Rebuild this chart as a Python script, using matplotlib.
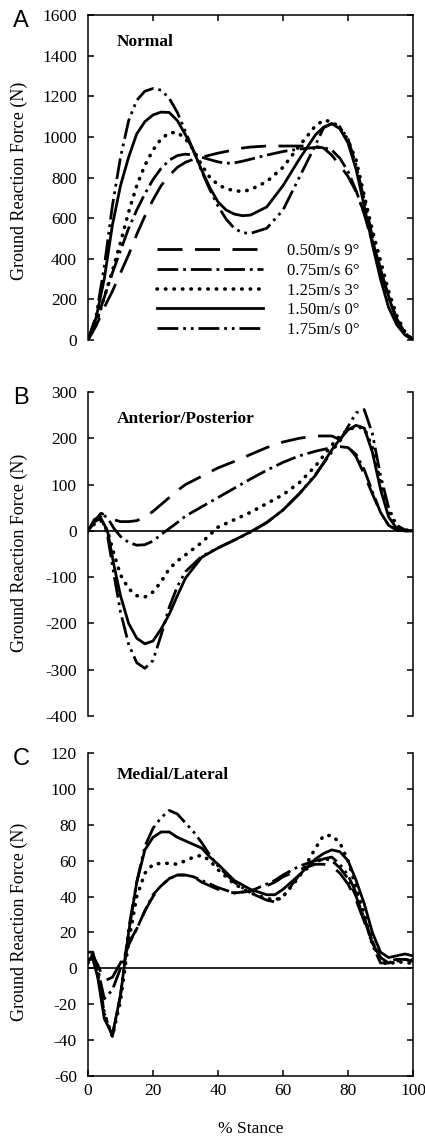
import matplotlib
matplotlib.use("Agg")
import matplotlib.pyplot as plt

plt.rcParams['font.family'] = ['Liberation Serif', 'DejaVu Serif']
plt.rcParams['lines.scale_dashes'] = False
plt.rcParams['axes.unicode_minus'] = False

# condition labels and line styles (legend order)
labels = ['0.50m/s 9°', '0.75m/s 6°', '1.25m/s 3°', '1.50m/s 0°', '1.75m/s 0°']
styles = [(0, (18, 9)),
          (0, (15, 3.5, 2, 3.5)),
          (0, (0.3, 5.8)),
          '-',
          (0, (15, 3.5, 2, 3.5, 2, 3.5))]
widths = [2.0, 2.0, 2.6, 2.0, 2.0]

# ---- A: normal force (N), % stance ----
xa = [0, 2.5, 5, 7.5, 10, 12.5, 15, 17.5, 20, 22.5, 25, 27.5, 30, 32.5, 35, 37.5, 40,
      42.5, 45, 47.5, 50, 55, 60, 65, 70, 72.5, 75, 77.5, 80, 82.5, 85, 87.5, 90,
      92.5, 95, 97.5, 100]
a_050 = [0, 70, 160, 240, 330, 420, 520, 610, 690, 760, 810, 850, 875, 890, 900, 910, 920,
         928, 936, 945, 950, 955, 955, 955, 953, 945, 910, 860, 805, 730, 625, 490, 350,
         215, 105, 35, 0]
a_075 = [0, 90, 210, 330, 440, 550, 640, 720, 790, 845, 885, 908, 915, 910, 900, 888, 877,
         870, 872, 880, 890, 910, 928, 940, 948, 948, 935, 895, 830, 735, 620, 480, 340,
         210, 100, 30, 0]
a_125 = [0, 80, 210, 340, 480, 630, 760, 860, 935, 990, 1020, 1022, 990, 935, 860, 800, 765,
         745, 735, 731, 740, 780, 850, 955, 1055, 1082, 1075, 1045, 985, 885, 710, 540, 390,
         240, 120, 40, 0]
a_150 = [0, 110, 300, 565, 760, 900, 1015, 1075, 1108, 1122, 1120, 1080, 1010, 930, 835, 750, 680,
         640, 620, 612, 615, 655, 760, 890, 1010, 1048, 1065, 1040, 970, 840, 660, 470, 300,
         160, 75, 25, 0]
a_175 = [0, 120, 360, 660, 900, 1080, 1180, 1225, 1238, 1230, 1190, 1120, 1025, 930, 830, 740, 660,
         595, 550, 528, 525, 550, 640, 800, 960, 1045, 1065, 1050, 990, 860, 690, 510, 350,
         210, 100, 35, 0]

# ---- B: anterior/posterior force (N) ----
xb = [0, 2, 4, 6, 8, 10, 12.5, 15, 17.5, 20, 22.5, 25, 27.5, 30, 35, 40, 45, 50, 55, 60,
      65, 70, 75, 77.5, 80, 82.5, 85, 87.5, 90, 92.5, 95, 97.5, 100]
b_050 = [0, 20, 38, 32, 24, 20, 20, 22, 30, 42, 57, 72, 87, 100, 118, 136, 150, 165, 180, 192,
         200, 205, 205, 197, 183, 160, 122, 80, 40, 12, 2, 0, 0]
b_075 = [0, 20, 38, 28, 5, -12, -25, -31, -30, -22, -8, 5, 18, 32, 52, 72, 92, 112, 131, 148,
         162, 172, 180, 182, 180, 165, 132, 85, 40, 12, 2, 0, 0]
b_125 = [0, 15, 22, 0, -50, -95, -125, -140, -143, -132, -110, -82, -65, -52, -25, 8, 24, 40, 59, 78,
         104, 140, 185, 205, 218, 225, 222, 180, 105, 40, 10, 2, 0]
b_150 = [0, 20, 27, 0, -75, -140, -200, -232, -244, -238, -212, -180, -140, -102, -57, -37, -20, -2, 18, 45,
         80, 120, 175, 198, 218, 228, 222, 170, 90, 30, 5, 0, 0]
b_175 = [0, 25, 30, -10, -95, -175, -245, -285, -297, -280, -225, -165, -120, -88, -55, -37, -20, -3, 18, 45,
         80, 122, 170, 195, 225, 255, 262, 210, 120, 50, 12, 2, 0]

# ---- C: medial/lateral force (N) ----
xc = [0, 1.5, 3, 5, 7.5, 10, 12.5, 15, 17.5, 20, 22.5, 25, 27.5, 30, 32.5, 35, 37.5, 40, 45,
      50, 55, 57.5, 60, 65, 70, 72.5, 75, 77.5, 80, 82.5, 85, 87.5, 90, 92.5, 95, 97.5, 100]
c_050 = [4, 7, 2, -7, -5, 3, 14, 22, 32, 40, 46, 50, 52, 52, 51, 48, 46, 44, 42,
         43, 46, 48, 51, 55, 58, 58, 57, 53, 47, 38, 26, 14, 6, 4, 5, 5, 4]
c_075 = [4, 7, 0, -17, -12, 0, 13, 22, 32, 41, 46, 50, 52, 52, 51, 49, 47, 45, 42,
         43, 47, 49, 52, 57, 60, 61, 60, 56, 50, 40, 28, 15, 6, 3, 4, 5, 4]
c_125 = [3, 8, -3, -25, -38, -18, 15, 40, 53, 58, 58.5, 58.5, 58, 60, 62, 63, 60, 55, 47,
         42, 39, 38, 40, 51, 67, 74, 74, 70, 60, 45, 30, 15, 4, 2, 4, 3, 3]
c_150 = [5, 5, -5, -28, -37, -15, 20, 48, 66, 73, 76, 76, 73, 71, 69, 67, 62, 58, 49,
         44, 41, 41, 44, 52, 61, 64, 66, 65, 60, 49, 36, 20, 9, 6, 7, 8, 7]
c_175 = [9, 9, -2, -25, -38, -15, 22, 48, 68, 78, 84, 88, 86, 81, 76, 70, 63, 57, 48,
         42, 38, 37, 40, 52, 59, 61, 62, 58, 52, 42, 28, 13, 3, 3, 5, 5, 5]

panels = [
    ('A', 'Normal', xa, [a_050, a_075, a_125, a_150, a_175], (0, 1600), range(0, 1601, 200)),
    ('B', 'Anterior/Posterior', xb, [b_050, b_075, b_125, b_150, b_175], (-400, 300), range(-400, 301, 100)),
    ('C', 'Medial/Lateral', xc, [c_050, c_075, c_125, c_150, c_175], (-60, 120), range(-60, 121, 20)),
]

W, H = 425, 1143
fig = plt.figure(figsize=(W / 100, H / 100), dpi=100)

# axes boxes in pixels: top, bottom
boxes = [(15, 340), (392, 716), (753, 1076)]
left, right = 88, 413
title_y = [0.905, 0.904, 0.919]
label_y = [181, 553, 922]

for i, (letter, name, x, series, ylim, yt) in enumerate(panels):
    top, bot = boxes[i]
    ax = fig.add_axes([left / W, 1 - bot / H, (right - left) / W, (bot - top) / H])
    for y, ls, lw, lab in zip(series, styles, widths, labels):
        ax.plot(x, y, color='black', lw=lw, linestyle=ls, label=lab,
                dash_capstyle='round' if lab.startswith('1.25') else 'butt')
    ax.set_xlim(0, 100)
    ax.set_ylim(*ylim)
    ax.set_yticks(list(yt))
    ax.tick_params(axis='y', direction='in', length=4, width=1.1, left=True, right=True,
                   labelsize=12.5, pad=8)
    for s in ax.spines.values():
        s.set_linewidth(1.1)
    if letter == 'A':
        ax.spines['bottom'].set_visible(False)
        ax.set_xticks([20, 40, 60, 80])
        ax.tick_params(axis='x', direction='in', length=4, width=1.1, top=True, bottom=False,
                       labeltop=False, labelbottom=False)
        ax.legend(loc='center left', bbox_to_anchor=(0.212, 0.152), frameon=False,
                  fontsize=12, handlelength=6.35, handletextpad=1.45, labelspacing=0.22,
                  borderpad=0, borderaxespad=0)
    elif letter == 'B':
        ax.spines['top'].set_visible(False)
        ax.spines['bottom'].set_visible(False)
        ax.set_xticks([])
        ax.axhline(0, color='black', lw=1.2)
    else:
        ax.spines['top'].set_visible(False)
        ax.set_xticks(range(0, 101, 20))
        ax.tick_params(axis='x', direction='in', length=4, width=1.1, top=False, bottom=True,
                       labelsize=12.5, pad=5)
        ax.axhline(0, color='black', lw=1.2)
        ax.set_xlabel('% Stance', fontsize=12.5, labelpad=16)
    ax.text(0.089, title_y[i], name, transform=ax.transAxes, fontsize=12.5,
            fontweight='bold', va='baseline')
    fig.text(13 / W, 1 - (top + 12) / H, letter, fontsize=17, family='Liberation Sans',
             va='baseline')
    fig.text(19.5 / W, 1 - label_y[i] / H, 'Ground Reaction Force (N)', rotation=90,
             fontsize=13, ha='center', va='center')

fig.savefig('out.png', dpi=100)
